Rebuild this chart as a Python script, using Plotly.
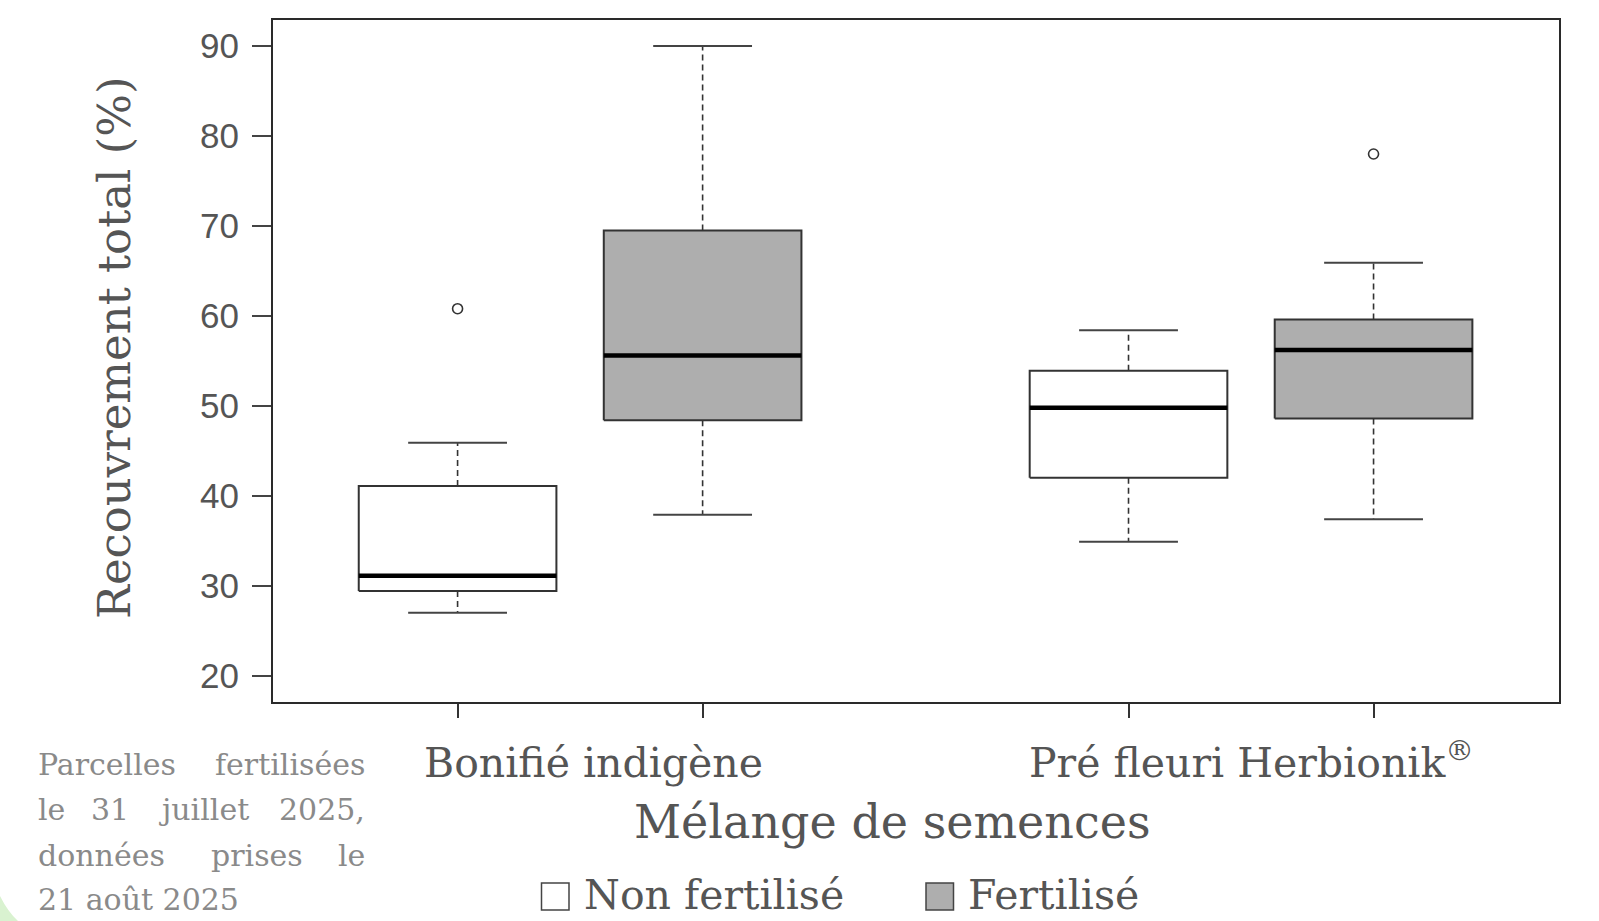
import plotly.graph_objects as go

# ---------------- data ----------------
groups = ["Bonifié indigène", "Pré fleuri Herbionik<sup>®</sup>"]
treatments = ["Non fertilisé", "Fertilisé"]

# values per group (order of `groups`)
nonfert_lower = [27.0, 34.9]
nonfert_q1 = [29.4, 42.0]
nonfert_median = [31.1, 49.8]
nonfert_q3 = [41.1, 53.9]
nonfert_upper = [45.9, 58.4]
nonfert_outliers = [[60.8], []]

fert_lower = [37.9, 37.4]
fert_q1 = [48.4, 48.6]
fert_median = [55.6, 56.2]
fert_q3 = [69.5, 59.6]
fert_upper = [90.0, 65.9]
fert_outliers = [[], [78.0]]

y_ticks = [20, 30, 40, 50, 60, 70, 80, 90]

x_title = "Mélange de semences"
y_title = "Recouvrement total (%)"
note_lines = [
    ["Parcelles", "fertilisées"],
    ["le", "31", "juillet", "2025,"],
    ["données", "prises", "le"],
    ["21 août 2025"],
]

# ---------------- styling / layout constants ----------------
W, H = 1599, 921
L, R, T, B = 273, 40, 20, 219
SERIF = "DejaVu Serif"
SANS = "Liberation Sans"
TEXT = "#555555"
NOTE = "#8a8a8a"
EDGE = "#333333"
FILL = ["#ffffff", "#aeaeae"]
OFFSET = 0.1826
HALF_BOX = 0.1473
HALF_CAP = HALF_BOX / 2

def px_x(px):
    return (px - L) / (W - L - R)

def px_y(py):
    return (H - B - py) / (H - B - T)

series = [
    dict(lower=nonfert_lower, q1=nonfert_q1, med=nonfert_median, q3=nonfert_q3,
         upper=nonfert_upper, out=nonfert_outliers),
    dict(lower=fert_lower, q1=fert_q1, med=fert_median, q3=fert_q3,
         upper=fert_upper, out=fert_outliers),
]

fig = go.Figure()
box_positions = []
for gi, g in enumerate(groups):
    for si, s in enumerate(series):
        xc = gi + (-OFFSET if si == 0 else OFFSET)
        box_positions.append(xc)
        x0, x1 = xc - HALF_BOX, xc + HALF_BOX
        # dashed whiskers
        for a, b in [(s["q3"][gi], s["upper"][gi]), (s["q1"][gi], s["lower"][gi])]:
            fig.add_trace(go.Scatter(x=[xc, xc], y=[a, b], mode="lines",
                                     line=dict(color=EDGE, width=1.6, dash="6px,4px"),
                                     hoverinfo="skip", showlegend=False))
        # caps
        for v in [s["upper"][gi], s["lower"][gi]]:
            fig.add_trace(go.Scatter(x=[xc - HALF_CAP, xc + HALF_CAP], y=[v, v], mode="lines",
                                     line=dict(color="#444444", width=2),
                                     hoverinfo="skip", showlegend=False))
        # box
        fig.add_trace(go.Scatter(x=[x0, x1, x1, x0, x0],
                                 y=[s["q1"][gi], s["q1"][gi], s["q3"][gi], s["q3"][gi], s["q1"][gi]],
                                 mode="lines", fill="toself", fillcolor=FILL[si],
                                 line=dict(color=EDGE, width=2),
                                 name=treatments[si], showlegend=False))
        # median
        fig.add_trace(go.Scatter(x=[x0, x1], y=[s["med"][gi], s["med"][gi]], mode="lines",
                                 line=dict(color="#000000", width=4.5),
                                 hoverinfo="skip", showlegend=False))
        # outliers
        if s["out"][gi]:
            fig.add_trace(go.Scatter(x=[xc] * len(s["out"][gi]), y=s["out"][gi], mode="markers",
                                     marker=dict(symbol="circle-open", size=10,
                                                 line=dict(color=EDGE, width=1.6), color=EDGE),
                                     showlegend=False))

fig.update_layout(
    width=W, height=H,
    margin=dict(l=L, r=R, t=T, b=B, autoexpand=False),
    plot_bgcolor="white", paper_bgcolor="white",
    showlegend=False,
    xaxis=dict(range=[-0.4577, 1.459], showgrid=False, zeroline=False,
               showline=True, mirror=True, linecolor="#2a2a2a", linewidth=2,
               ticks="outside", ticklen=14, tickwidth=1.5, tickcolor="#333333",
               tickvals=box_positions, showticklabels=False),
    yaxis=dict(range=[17.07, 92.9], showgrid=False, zeroline=False,
               showline=True, mirror=True, linecolor="#2a2a2a", linewidth=2,
               ticks="outside", ticklen=19, tickwidth=2, tickcolor="#444444",
               tickvals=y_ticks, ticktext=[str(v) for v in y_ticks],
               tickfont=dict(family=SANS, size=35, color=TEXT),
               ticklabelstandoff=6),
)

ann = []
# category labels
label_centers = [593, 1251]
label_yshift = [0, 3]
for gi, g in enumerate(groups):
    ann.append(dict(text=g, x=px_x(label_centers[gi]), xref="paper", y=px_y(763), yref="paper",
                    xanchor="center", yanchor="middle", showarrow=False, yshift=label_yshift[gi],
                    font=dict(family=SERIF, size=41, color=TEXT)))
# axis titles
ann.append(dict(text=x_title, x=px_x(892), xref="paper", y=px_y(822), yref="paper",
                xanchor="center", yanchor="middle", showarrow=False,
                font=dict(family=SERIF, size=46, color=TEXT)))
ann.append(dict(text=y_title, x=px_x(114), xref="paper", y=px_y(348), yref="paper",
                xanchor="center", yanchor="middle", showarrow=False, textangle=-90,
                font=dict(family=SERIF, size=45, color=TEXT)))

# legend (manual)
leg = [(541.5, 582.0), (926.0, 966.0)]
for si, (sx, tx) in enumerate(leg):
    fig.add_shape(type="rect", xref="paper", yref="paper",
                  x0=px_x(sx), x1=px_x(sx + 27.5), y0=px_y(883), y1=px_y(910),
                  fillcolor=FILL[si], line=dict(color="#444444", width=1.5))
    ann.append(dict(text=treatments[si], x=px_x(tx), xref="paper", y=px_y(895), yref="paper",
                    xanchor="left", yanchor="middle", showarrow=False,
                    font=dict(family=SERIF, size=41, color=TEXT)))

# justified footnote, word by word
note_left, note_right = 36, 367
line_centers = [764.5, 809.5, 855.5, 899.5]
mid_word_centers = {1: {1: 110, 2: 203.5}, 2: {1: 257}}
for li, words in enumerate(note_lines):
    yc = px_y(line_centers[li])
    for wi, w in enumerate(words):
        if wi == 0:
            xa, xp = "left", note_left
        elif wi == len(words) - 1:
            xa, xp = "right", note_right
        else:
            xa, xp = "center", mid_word_centers[li][wi]
        ann.append(dict(text=w, x=px_x(xp), xref="paper", y=yc, yref="paper",
                        xanchor=xa, yanchor="middle", showarrow=False,
                        font=dict(family=SERIF, size=30, color=NOTE)))

fig.update_layout(annotations=ann)

# faint green decoration in the bottom-left corner
fig.add_shape(type="path", xref="paper", yref="paper",
              path=f"M {px_x(0)},{px_y(896)} Q {px_x(8)},{px_y(912)} {px_x(18)},{px_y(921)} L {px_x(0)},{px_y(921)} Z",
              fillcolor="#d9f2d0", line=dict(width=0))

fig.write_html("out.html", config={"displayModeBar": False},
               post_script="document.body.style.margin='0';document.body.style.overflow='hidden';")
